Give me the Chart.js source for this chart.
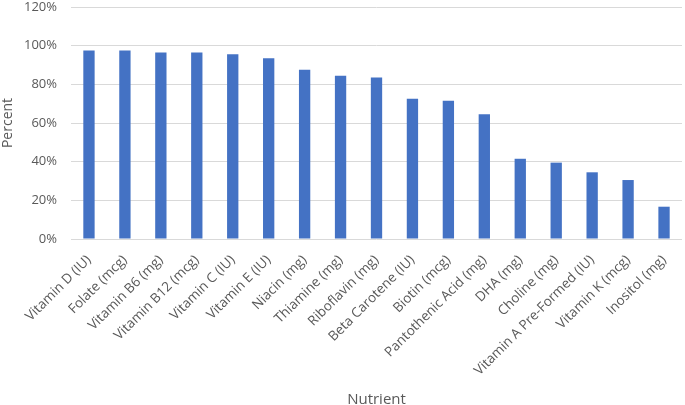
<!DOCTYPE html>
<html>
<head>
<meta charset="utf-8">
<script src="https://cdn.jsdelivr.net/npm/chart.js@4"></script>
<style>
  html, body { margin: 0; padding: 0; background: #fff; }
  #wrap { width: 685px; height: 405px; }
</style>
</head>
<body>
<div id="wrap"><canvas id="myChart"></canvas></div>
<script>
var nutrients = ['Vitamin D (IU)', 'Folate (mcg)', 'Vitamin B6 (mg)', 'Vitamin B12 (mcg)',
  'Vitamin C (IU)', 'Vitamin E (IU)', 'Niacin (mg)', 'Thiamine (mg)', 'Riboflavin (mg)',
  'Beta Carotene (IU)', 'Biotin (mcg)', 'Pantothenic Acid (mg)', 'DHA (mg)', 'Choline (mg)',
  'Vitamin A Pre-Formed (IU)', 'Vitamin K (mcg)', 'Inositol (mg)'];
var percent = [97.5, 97.5, 96.5, 96.5, 95.5, 93.5, 87.5, 84.5, 83.5, 72.5, 71.5, 64.5, 41.5, 39.5, 34.5, 30.5, 16.7];
var yTicks = [0, 20, 40, 60, 80, 100, 120];

Chart.defaults.font.family = 'Open Sans';
Chart.defaults.color = '#595959';

var ctx = document.getElementById('myChart').getContext('2d');
var myChart = new Chart(ctx, {
  type: 'bar',
  data: {
    labels: nutrients,
    datasets: [{
      data: percent,
      backgroundColor: '#4472C4',
      borderWidth: 0,
      categoryPercentage: 1,
      barPercentage: 0.315
    }]
  },
  options: {
    responsive: true,
    maintainAspectRatio: false,
    animation: false,
    layout: { padding: { top: 0, right: 3, left: 0, bottom: 0 } },
    plugins: {
      legend: { display: false },
      tooltip: { enabled: false }
    },
    scales: {
      x: {
        grid: { display: false, drawTicks: false },
        border: { display: false },
        ticks: {
          minRotation: 45, maxRotation: 45, autoSkip: false,
          padding: 13,
          font: { size: 13.5 }, color: '#595959'
        },
        title: {
          display: true, text: 'Nutrient',
          font: { size: 15, lineHeight: 1 }, color: '#595959',
          padding: { top: 0, bottom: -2 }
        },
        afterFit: function (scale) {
          scale.height = 166;
          scale.paddingRight = 0;
        }
      },
      y: {
        min: 0, max: 120,
        afterBuildTicks: function (scale) {
          scale.ticks = yTicks.map(function (v) { return { value: v }; });
        },
        grid: { color: '#d9d9d9', lineWidth: 1, drawTicks: false },
        border: { display: false },
        ticks: {
          padding: 14,
          font: { size: 13 }, color: '#595959',
          callback: function (v) { return v + '%'; }
        },
        title: {
          display: true, text: 'Percent',
          font: { size: 14 }, color: '#595959',
          padding: { top: 0, bottom: 4 }
        },
        afterFit: function (scale) {
          scale.width = 71;
          scale.paddingTop = 7;
        }
      }
    }
  }
});
</script>
</body>
</html>
